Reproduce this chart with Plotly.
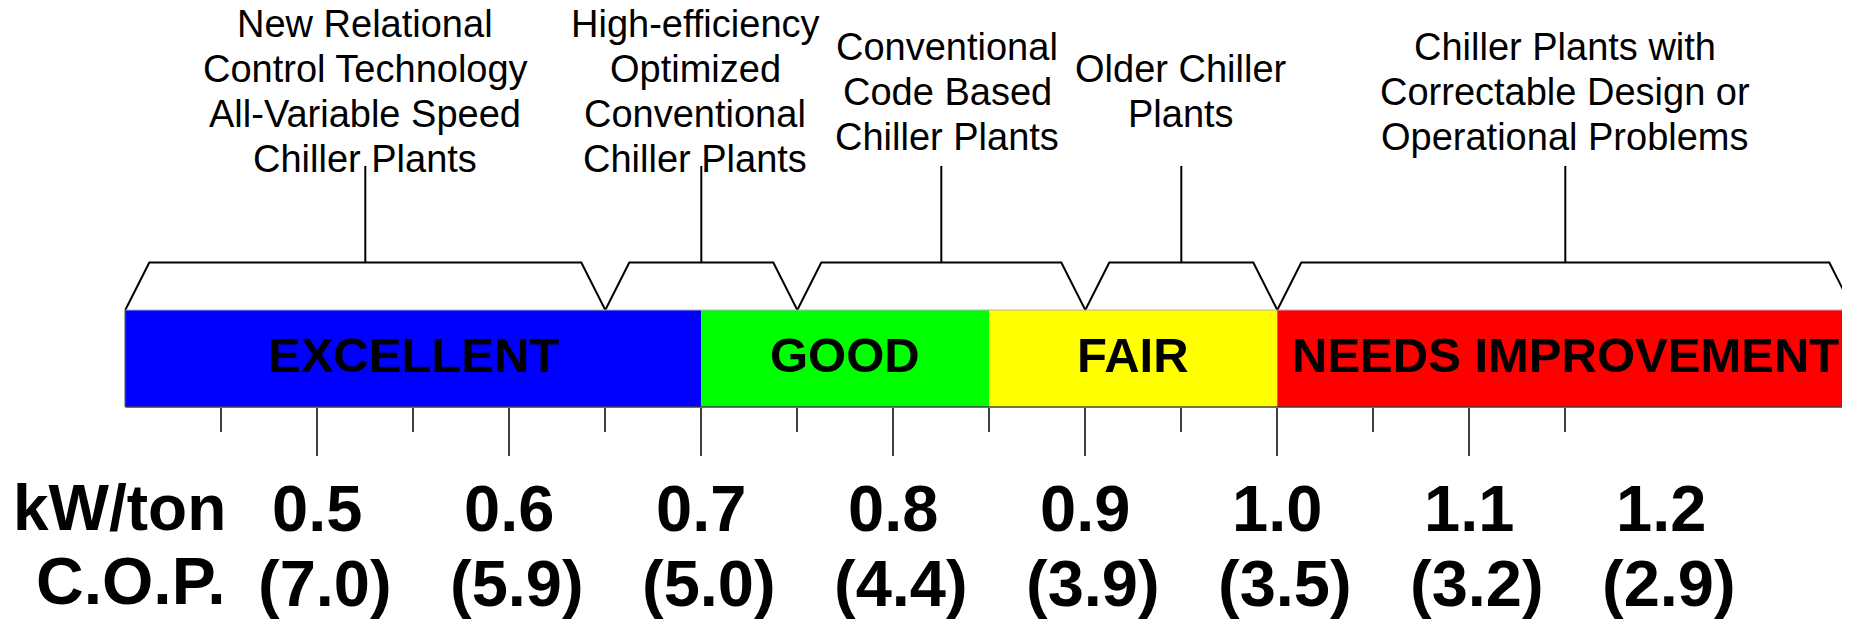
import plotly.graph_objects as go

# ---------------- data ----------------
rating_labels = ["EXCELLENT", "GOOD", "FAIR", "NEEDS IMPROVEMENT"]
rating_edges = [0.4, 0.7, 0.85, 1.0, 1.3]
rating_colors = ["#0000FF", "#00FF00", "#FFFF00", "#FF0000"]

group_edges = [0.4, 0.65, 0.75, 0.9, 1.0, 1.3]
group_texts = [
    ["New Relational", "Control Technology", "All-Variable Speed", "Chiller Plants"],
    ["High-efficiency", "Optimized", "Conventional", "Chiller Plants"],
    ["Conventional", "Code Based", "Chiller Plants"],
    ["Older Chiller", "Plants"],
    ["Chiller Plants with", "Correctable Design or", "Operational Problems"],
]

kw_values = [0.5, 0.6, 0.7, 0.8, 0.9, 1.0, 1.1, 1.2]
kw_labels = ["0.5", "0.6", "0.7", "0.8", "0.9", "1.0", "1.1", "1.2"]
cop_labels = ["(7.0)", "(5.9)", "(5.0)", "(4.4)", "(3.9)", "(3.5)", "(3.2)", "(2.9)"]

major_ticks = [0.5, 0.6, 0.7, 0.8, 0.9, 1.0, 1.1]
minor_ticks = [0.45, 0.55, 0.65, 0.75, 0.85, 0.95, 1.05, 1.15]

row_titles = ["kW/ton", "C.O.P."]

# ---------------- layout constants ----------------
# the page body has an 8px margin: the figure is drawn 8px right/down
OFF = 8
W, H = 1850 - OFF, 621 - OFF
PX_PER_UNIT = 1920.0
X0 = 0.4 - (125.3 - OFF) / PX_PER_UNIT
X1 = X0 + W / PX_PER_UNIT
Y_TOP, Y_BOT = OFF, 621  # y data units == screen pixels

BAR_TOP, BAR_BOT = 310, 407
BRACKET_TOP = 262.5
STEM_TOP = 166
SLANT = 24 / PX_PER_UNIT
TEXT_MID = 91.5
LINE_GAP = 45
TEXT_XSHIFT = [0, -6, 6, 0, 0]

FONT = "Liberation Sans, Arial, Helvetica, sans-serif"

fig = go.Figure()

# brackets + stems
bx, by = [], []
for a, b in zip(group_edges[:-1], group_edges[1:]):
    bx += [a, a + SLANT, b - SLANT, b, None]
    by += [BAR_TOP, BRACKET_TOP, BRACKET_TOP, BAR_TOP, None]
    c = (a + b) / 2
    bx += [c, c, None]
    by += [BRACKET_TOP, STEM_TOP, None]
fig.add_trace(go.Scatter(x=bx, y=by, mode="lines",
                         line=dict(color="black", width=2),
                         hoverinfo="skip", showlegend=False))

shapes = []
annotations = []

# rating bar segments
for lab, a, b, col in zip(rating_labels, rating_edges[:-1], rating_edges[1:], rating_colors):
    shapes.append(dict(type="rect", xref="x", yref="y", x0=a, x1=b,
                       y0=BAR_TOP, y1=BAR_BOT, fillcolor=col,
                       line=dict(width=0), layer="below"))
    annotations.append(dict(x=(a + b) / 2, y=355, xref="x", yref="y",
                            text="<b>%s</b>" % lab, showarrow=False,
                            xanchor="center", yanchor="middle",
                            font=dict(family=FONT, size=49, color="black")))

# bar outline
shapes.append(dict(type="line", xref="x", yref="y", x0=rating_edges[0], x1=rating_edges[-1],
                   y0=BAR_TOP, y1=BAR_TOP, line=dict(color="#b4b4b4", width=1)))
shapes.append(dict(type="line", xref="x", yref="y", x0=rating_edges[0], x1=rating_edges[-1],
                   y0=BAR_BOT, y1=BAR_BOT, line=dict(color="#404040", width=1.5)))
shapes.append(dict(type="line", xref="x", yref="y", x0=rating_edges[0], x1=rating_edges[0],
                   y0=BAR_TOP, y1=BAR_BOT, line=dict(color="#404040", width=1.5)))

# group description texts
for (a, b), lines, xs in zip(zip(group_edges[:-1], group_edges[1:]), group_texts, TEXT_XSHIFT):
    n = len(lines)
    for i, t in enumerate(lines):
        annotations.append(dict(x=(a + b) / 2, y=TEXT_MID + (i - (n - 1) / 2) * LINE_GAP,
                                xref="x", yref="y", text=t, showarrow=False, xshift=xs,
                                xanchor="center", yanchor="middle",
                                font=dict(family=FONT, size=38, color="black")))

# value labels
for v, kl, cl in zip(kw_values, kw_labels, cop_labels):
    annotations.append(dict(x=v, y=508, xref="x", yref="y", text="<b>%s</b>" % kl,
                            showarrow=False, xanchor="center", yanchor="middle",
                            font=dict(family=FONT, size=65, color="black")))
    annotations.append(dict(x=v, y=583, xref="x", yref="y", text="<b>%s</b>" % cl,
                            showarrow=False, xanchor="center", yanchor="middle", xshift=8,
                            font=dict(family=FONT, size=65, color="black")))

for t, yy, fs in zip(row_titles, [508, 581], [64, 66]):
    annotations.append(dict(x=0.45, y=yy, xref="x", yref="y", text="<b>%s</b>" % t,
                            showarrow=False, xanchor="right", yanchor="middle", xshift=7,
                            font=dict(family=FONT, size=fs, color="black")))

fig.update_layout(
    width=W, height=H,
    margin=dict(l=0, r=0, t=0, b=0, pad=0),
    paper_bgcolor="white", plot_bgcolor="white",
    showlegend=False,
    shapes=shapes, annotations=annotations,
    xaxis=dict(range=[X0, X1], anchor="free", position=(Y_BOT - BAR_BOT) / H,
               showgrid=False, zeroline=False, showline=False,
               showticklabels=False, fixedrange=True,
               ticks="outside", tickmode="array", tickvals=major_ticks,
               ticklen=48, tickwidth=2, tickcolor="#404040",
               minor=dict(tickmode="array", tickvals=minor_ticks, ticks="outside",
                          ticklen=24, tickwidth=2, tickcolor="#404040", showgrid=False)),
    yaxis=dict(range=[Y_BOT, Y_TOP], visible=False, showgrid=False, zeroline=False,
               fixedrange=True),
)

fig.write_html("out.html")
